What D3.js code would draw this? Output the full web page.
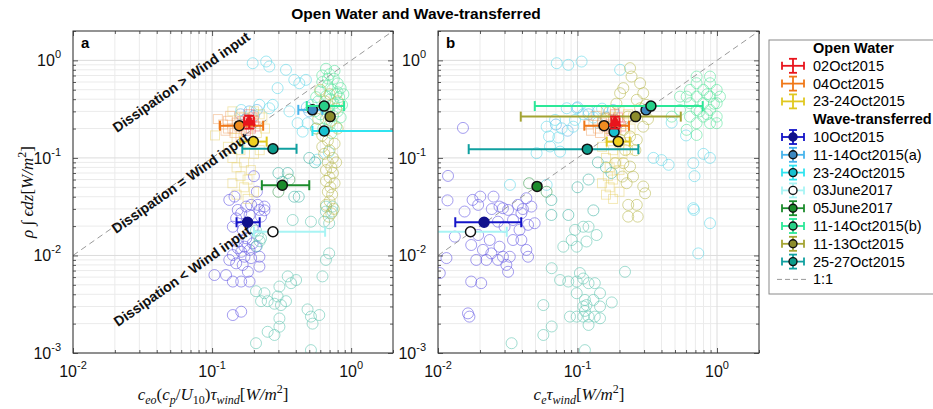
<!DOCTYPE html>
<html><head><meta charset="utf-8">
<script src="https://cdn.jsdelivr.net/npm/d3@7"></script>
<style>body{margin:0;background:#fff}svg{display:block}</style>
</head><body><svg id="c" width="933" height="409"></svg>
<script>
// ---------------- DATA ----------------
const titleText = "Open Water and Wave-transferred";
const groupNames = ["Open Water", "Wave-transferred"];
const seriesNames = ["02Oct2015","04Oct2015","23-24Oct2015","10Oct2015","11-14Oct2015(a)","23-24Oct2015","03June2017","05June2017","11-14Oct2015(b)","11-13Oct2015","25-27Oct2015"];
const xTickValues = [0.01, 0.1, 1];
const xTickExp = ["-2","-1","0"];
const yTickValues = [0.001, 0.01, 0.1, 1];
const yTickExp = ["-3","-2","-1","0"];
const annotations = ["Dissipation > Wind input","Dissipation = Wind input","Dissipation < Wind input"];

// means: [x, y, xlo, xhi, ylo, yhi]
const meansA = [
  [0.185,0.235,0.17,0.2,0.2,0.27],
  [0.157,0.214,0.114,0.233,0.214,0.214],
  [0.198,0.147,0.159,0.247,0.147,0.147],
  [0.18,0.0219,0.15,0.22,0.0219,0.0219],
  [0.527,0.311,0.417,0.62,0.311,0.311],
  [0.64,0.189,0.527,3,0.189,0.189],
  [0.274,0.0175,0.2,0.65,0.0175,0.0175],
  [0.32,0.0525,0.228,0.5,0.0525,0.0525],
  [0.64,0.34,0.48,0.89,0.34,0.34],
  [0.706,0.265,0.7,0.71,0.265,0.265],
  [0.274,0.124,0.165,0.405,0.124,0.124]
];
const meansB = [
  [0.186,0.23,0.175,0.2,0.2,0.265],
  [0.155,0.214,0.112,0.234,0.214,0.214],
  [0.196,0.147,0.162,0.237,0.147,0.147],
  [0.0214,0.0219,0.0133,0.0395,0.0219,0.0219],
  [0.31,0.31,0.3,0.32,0.31,0.31],
  [0.183,0.185,0.183,0.183,0.185,0.185],
  [0.0171,0.0175,0.008,0.0311,0.0175,0.0175],
  [0.0513,0.051,0.0513,0.0513,0.051,0.051],
  [0.336,0.34,0.0494,0.79,0.34,0.34],
  [0.261,0.265,0.0392,0.55,0.265,0.265],
  [0.1175,0.123,0.0166,0.273,0.123,0.123]
];

// scatter, panel a
const a02Oct = [[0.17,0.22],[0.18,0.25],[0.19,0.2],[0.2,0.24],[0.185,0.28],[0.175,0.19],[0.195,0.26],[0.205,0.21],[0.165,0.24],[0.19,0.23]];
const a04Oct = [[0.12,0.22],[0.13,0.24],[0.14,0.2],[0.15,0.23],[0.125,0.19],[0.16,0.26],[0.135,0.27],[0.145,0.18],[0.17,0.2],[0.155,0.21],[0.13,0.2],[0.16,0.17],[0.11,0.25]];
const a2324OW = [[0.14,0.3],[0.2,0.3],[0.22,0.28],[0.17,0.26],[0.21,0.18],[0.15,0.16],[0.18,0.14],[0.16,0.12],[0.2,0.11],[0.14,0.1],[0.17,0.09],[0.15,0.08],[0.19,0.075],[0.16,0.065],[0.18,0.06],[0.14,0.055],[0.17,0.05],[0.2,0.045],[0.15,0.042],[0.18,0.038],[0.22,0.12],[0.24,0.2],[0.13,0.13],[0.23,0.26],[0.105,0.17]];
const a10Oct = [[0.133,0.0371],[0.145,0.0401],[0.153,0.0293],[0.176,0.0317],[0.191,0.033],[0.213,0.033],[0.238,0.0317],[0.219,0.0293],[0.186,0.026],[0.162,0.0271],[0.149,0.024],[0.141,0.0197],[0.166,0.0183],[0.196,0.019],[0.176,0.015],[0.153,0.0139],[0.171,0.0123],[0.186,0.0114],[0.207,0.0123],[0.219,0.0097],[0.191,0.0094],[0.171,0.0097],[0.162,0.0109],[0.141,0.0101],[0.133,0.009],[0.149,0.0083],[0.166,0.008],[0.181,0.0068],[0.104,0.0063],[0.126,0.0063],[0.141,0.0054],[0.162,0.0054],[0.186,0.0054],[0.141,0.00245],[0.162,0.00265],[0.219,0.0077],[0.238,0.029],[0.225,0.025],[0.153,0.0119],[0.196,0.0133],[0.2,0.065],[0.21,0.045]];
const a1114a = [[0.16,0.28],[0.185,0.3],[0.2,0.27],[0.175,0.25],[0.21,0.31],[0.5,0.3],[0.48,0.33]];
const a2324WT = [[0.196,0.935],[0.245,0.973],[0.258,0.865],[0.34,0.8],[0.39,0.631],[0.296,0.519],[0.424,0.583],[0.473,0.631],[0.219,0.35],[0.258,0.323],[0.273,0.35],[0.162,0.31],[0.412,0.227],[0.486,0.227],[0.448,0.186],[0.36,0.3],[0.52,0.35],[0.56,0.2],[0.57,0.096],[0.69,0.115]];
const a03June = [[0.207,0.0043],[0.238,0.0041],[0.251,0.0034],[0.281,0.0032],[0.313,0.0031],[0.34,0.0034],[0.305,0.0048],[0.296,0.0038],[0.35,0.0061],[0.37,0.0052],[0.402,0.0056],[0.486,0.0028],[0.514,0.00236],[0.59,0.00245],[0.528,0.002],[0.305,0.00226],[0.305,0.00186],[0.281,0.00153],[0.207,0.00126],[0.514,0.00107],[0.251,0.00165],[0.225,0.0034],[0.622,0.0061],[0.659,0.0317],[0.734,0.0317],[0.659,0.0282],[0.734,0.0282],[0.64,0.0222],[0.695,0.0214],[0.659,0.009],[0.695,0.0105],[0.514,0.0222],[0.38,0.0231],[0.207,0.018],[0.213,0.016],[0.22,0.014],[0.21,0.0125],[0.225,0.015]];
const a05June = [[0.36,0.06],[0.3,0.045]];
const a1114b = [[0.66,0.82],[0.7,0.72],[0.75,0.65],[0.62,0.6],[0.8,0.58],[0.68,0.55],[0.73,0.5],[0.84,0.52],[0.6,0.48],[0.78,0.45],[0.66,0.43],[0.71,0.4],[0.82,0.42],[0.58,0.38],[0.75,0.36],[0.64,0.33],[0.86,0.35],[0.69,0.3],[0.8,0.3],[0.6,0.28],[0.74,0.27],[0.66,0.25],[0.84,0.26],[0.7,0.22],[0.78,0.21],[0.63,0.2],[0.72,0.18],[0.8,0.47],[0.56,0.42],[0.68,0.65],[0.76,0.78],[0.88,0.45],[0.62,0.7],[0.7,0.34],[0.55,0.3]];
const a1113 = [[0.6,0.5],[0.7,0.45],[0.65,0.38],[0.78,0.32],[0.58,0.25],[0.72,0.24],[0.8,0.2],[0.62,0.17],[0.68,0.15],[0.76,0.14],[0.7,0.12],[0.64,0.11],[0.74,0.1],[0.68,0.09],[0.72,0.08],[0.66,0.075],[0.74,0.07],[0.7,0.063],[0.66,0.058],[0.76,0.055],[0.71,0.05],[0.68,0.045],[0.73,0.042],[0.7,0.036],[0.66,0.033],[0.75,0.03],[0.72,0.027],[0.69,0.025],[0.8,0.38],[0.56,0.2],[0.62,0.13],[0.78,0.09]];
const a2527 = [[0.3,0.07],[0.35,0.07],[0.32,0.057],[0.42,0.04],[0.39,0.04],[0.5,0.1],[0.55,0.09]];

// scatter, panel b
const b02Oct = [[0.17,0.22],[0.18,0.25],[0.19,0.2],[0.2,0.24],[0.185,0.28],[0.175,0.19],[0.195,0.26],[0.205,0.21]];
const b04Oct = [[0.12,0.22],[0.13,0.24],[0.14,0.2],[0.15,0.23],[0.125,0.19],[0.16,0.26],[0.135,0.27],[0.145,0.18],[0.17,0.2],[0.155,0.21]];
const b2324OW = [[0.16,0.3],[0.2,0.3],[0.23,0.28],[0.18,0.26],[0.22,0.18],[0.17,0.16],[0.2,0.14],[0.18,0.12],[0.21,0.11],[0.16,0.1],[0.19,0.09],[0.17,0.08],[0.2,0.075],[0.165,0.065],[0.18,0.06],[0.15,0.055],[0.17,0.05],[0.2,0.045],[0.16,0.042],[0.18,0.038],[0.23,0.12],[0.24,0.2],[0.15,0.13],[0.25,0.26]];
const b10Oct = [[0.0118,0.0654],[0.0117,0.0367],[0.0155,0.0282],[0.0177,0.0371],[0.0201,0.0401],[0.025,0.0401],[0.0194,0.033],[0.0243,0.0299],[0.0276,0.0317],[0.0292,0.0305],[0.0318,0.0293],[0.0374,0.033],[0.043,0.0386],[0.0406,0.0299],[0.0467,0.0317],[0.0396,0.0271],[0.0345,0.0231],[0.03,0.0197],[0.0269,0.0222],[0.0442,0.0206],[0.0493,0.0214],[0.0384,0.0183],[0.0132,0.0156],[0.0173,0.0128],[0.0235,0.0144],[0.0276,0.0123],[0.021,0.0114],[0.0241,0.0105],[0.0222,0.009],[0.0188,0.009],[0.0292,0.0097],[0.0327,0.0097],[0.0269,0.009],[0.0309,0.008],[0.0318,0.0068],[0.043,0.0114],[0.0442,0.0097],[0.0173,0.0054],[0.0204,0.0052],[0.0164,0.00255],[0.0168,0.00236],[0.0115,0.0094],[0.0103,0.0066],[0.0396,0.0144],[0.0345,0.0144],[0.0194,0.0162],[0.0151,0.203]];
const b1114a = [[0.1,0.33],[0.12,0.28],[0.14,0.3],[0.16,0.26],[0.18,0.31],[0.085,0.19],[0.07,0.22]];
const b2324WT = [[0.071,0.935],[0.0859,0.9],[0.107,0.972],[0.202,0.8],[0.0601,0.209],[0.0771,0.201],[0.0837,0.323],[0.0987,0.323],[0.0933,0.209],[0.096,0.245],[0.069,0.245],[0.0625,0.166],[0.0729,0.162],[0.0635,0.131],[0.075,0.116],[0.0509,0.112],[0.0601,0.0529],[0.0328,0.0529],[0.11,0.28],[0.12,0.3],[0.13,0.26],[0.14,0.23],[0.15,0.32],[0.35,0.1],[0.4,0.095],[0.45,0.085],[0.676,0.0883],[0.69,0.065],[0.8,0.11],[0.89,0.1],[0.6,0.17],[0.473,0.23],[0.734,0.0105],[0.891,0.0214],[0.676,0.0305],[0.684,0.0293]];
const b03June = [[0.0791,0.0123],[0.0908,0.0144],[0.096,0.0183],[0.11,0.0197],[0.12,0.0197],[0.0987,0.0123],[0.116,0.0139],[0.137,0.0162],[0.0859,0.0054],[0.0987,0.0054],[0.104,0.0066],[0.11,0.0058],[0.12,0.0052],[0.133,0.0052],[0.145,0.0041],[0.0987,0.0041],[0.113,0.0035],[0.116,0.0031],[0.13,0.0035],[0.11,0.003],[0.0883,0.00236],[0.0987,0.00236],[0.11,0.00236],[0.12,0.00236],[0.133,0.00236],[0.145,0.00227],[0.12,0.00194],[0.145,0.003],[0.176,0.0033],[0.0569,0.0031],[0.075,0.0056],[0.0653,0.00187],[0.0569,0.00153],[0.0337,0.00126],[0.0653,0.0074],[0.113,0.0027],[0.219,0.0068],[0.113,0.00107]];
const b05June = [[0.045,0.055],[0.06,0.045]];
const b1114b = [[0.606,0.425],[0.64,0.498],[0.714,0.583],[0.798,0.498],[0.891,0.583],[0.995,0.498],[0.64,0.364],[0.714,0.425],[0.798,0.364],[0.891,0.425],[0.995,0.364],[1.05,0.425],[0.714,0.31],[0.798,0.265],[0.891,0.31],[0.995,0.265],[0.64,0.265],[0.891,0.227],[0.995,0.227],[0.714,0.227],[0.606,0.194],[0.714,0.172],[0.543,0.31],[0.473,0.265],[0.714,0.682],[0.891,0.682],[0.543,0.425],[0.95,0.36],[0.85,0.45],[0.75,0.3],[0.85,0.28]];
const b1113 = [[0.238,0.832],[0.244,0.682],[0.281,0.583],[0.213,0.519],[0.296,0.461],[0.202,0.461],[0.266,0.394],[0.281,0.323],[0.23,0.265],[0.296,0.209],[0.213,0.194],[0.238,0.166],[0.202,0.153],[0.266,0.153],[0.213,0.0883],[0.238,0.0815],[0.21,0.0644],[0.25,0.0644],[0.225,0.055],[0.296,0.0509],[0.186,0.0883],[0.17,0.3],[0.19,0.36],[0.31,0.35],[0.32,0.25],[0.16,0.25],[0.26,0.12],[0.22,0.12],[0.231,0.033],[0.266,0.033],[0.27,0.025],[0.231,0.025],[0.305,0.0434]];
const b2527 = [[0.065,0.026],[0.086,0.026],[0.065,0.037],[0.13,0.029],[0.1,0.05],[0.12,0.06],[0.14,0.09],[0.16,0.08],[0.175,0.07]];

const scatterA = [a02Oct,a04Oct,a2324OW,a10Oct,a1114a,a2324WT,a03June,a05June,a1114b,a1113,a2527];
const scatterB = [b02Oct,b04Oct,b2324OW,b10Oct,b1114a,b2324WT,b03June,b05June,b1114b,b1113,b2527];

// ---------------- STYLE ----------------
const barColor   = ["#e8141c","#f07818","#e0c820","#1414c8","#48b4ec","#30e4f0","#a8f4f4","#1c8c2c","#2ce898","#a4a434","#10a0a0"];
const fillColor  = ["#e8141c","#f08c20","#f0d020","#10108c","#3c88c0","#18c0d0","#ffffff","#1c8c2c","#28d088","#8c8c2c","#0c9c8c"];
const scatColor  = ["#f05050","#f0a060","#e8d060","#6458e4","#58b0e8","#60d8e8","#60c4b0","#3c9c50","#58e49c","#b8b850","#40b4a4"];

const svg = d3.select("#c");
const sans = "'Liberation Sans', Arial, Helvetica, sans-serif";
const serif = "'Liberation Serif', 'Times New Roman', serif";
const T = 31, B = 353;

svg.append("text").attr("x", 416).attr("y", 19).attr("text-anchor","middle")
  .attr("font-family", sans).attr("font-weight","bold").attr("font-size",15.5).text(titleText);

function drawPanel(idx, left, right, label, scat, means) {
  const x = d3.scaleLog().domain([0.01, 2]).range([left, right]);
  const y = d3.scaleLog().domain([0.001, 2]).range([B, T]);
  const g = svg.append("g");
  const clipId = "clip" + idx;
  g.append("clipPath").attr("id", clipId).append("rect")
    .attr("x", left).attr("y", T).attr("width", right-left).attr("height", B-T);

  const xMinor = [], yMinor = [];
  [0.01,0.1,1].forEach(d => { for (let k=2;k<=9;k++){ const v=d*k; if (v<=2) xMinor.push(v);} });
  [0.001,0.01,0.1,1].forEach(d => { for (let k=2;k<=9;k++){ const v=d*k; if (v<=2) yMinor.push(v);} });

  const grid = g.append("g");
  grid.selectAll(".xm").data(xMinor).join("line").attr("x1",d=>x(d)).attr("x2",d=>x(d)).attr("y1",T).attr("y2",B)
    .attr("stroke","#ebebeb").attr("stroke-width",1);
  grid.selectAll(".ym").data(yMinor).join("line").attr("y1",d=>y(d)).attr("y2",d=>y(d)).attr("x1",left).attr("x2",right)
    .attr("stroke","#ebebeb").attr("stroke-width",1);
  grid.selectAll(".xM").data(xTickValues).join("line").attr("x1",d=>x(d)).attr("x2",d=>x(d)).attr("y1",T).attr("y2",B)
    .attr("stroke","#dcdcdc").attr("stroke-width",1);
  grid.selectAll(".yM").data(yTickValues).join("line").attr("y1",d=>y(d)).attr("y2",d=>y(d)).attr("x1",left).attr("x2",right)
    .attr("stroke","#dcdcdc").attr("stroke-width",1);

  const plot = g.append("g").attr("clip-path", `url(#${clipId})`);

  for (let s = 3; s < seriesNames.length; s++) {
    plot.append("g").selectAll("circle").data(scat[s]).join("circle")
      .attr("cx", d=>x(d[0])).attr("cy", d=>y(d[1])).attr("r", 5.5)
      .attr("fill","none").attr("stroke", scatColor[s]).attr("stroke-width",0.9).attr("stroke-opacity",0.65);
  }
  for (let s = 0; s < 3; s++) {
    plot.append("g").selectAll("rect").data(scat[s]).join("rect")
      .attr("x", d=>x(d[0])-4.5).attr("y", d=>y(d[1])-4.5).attr("width",9).attr("height",9)
      .attr("fill","none").attr("stroke", scatColor[s]).attr("stroke-width",0.9).attr("stroke-opacity",0.5);
  }

  plot.append("line").attr("x1", x(0.01)).attr("y1", y(0.01)).attr("x2", x(2)).attr("y2", y(2))
    .attr("stroke","#9a9a9a").attr("stroke-width",1).attr("stroke-dasharray","6,4");

  const order = [6,3,7,10,4,5,8,9,1,2,0];
  order.forEach(s => {
    const m = means[s];
    const eg = plot.append("g");
    const c = barColor[s];
    if (m[3] > m[2]) {
      eg.append("line").attr("x1",x(m[2])).attr("x2",x(m[3])).attr("y1",y(m[1])).attr("y2",y(m[1]))
        .attr("stroke",c).attr("stroke-width",2);
      [m[2],m[3]].forEach(v => eg.append("line").attr("x1",x(v)).attr("x2",x(v)).attr("y1",y(m[1])-5).attr("y2",y(m[1])+5)
        .attr("stroke",c).attr("stroke-width",2));
    }
    if (m[5] > m[4]) {
      eg.append("line").attr("x1",x(m[0])).attr("x2",x(m[0])).attr("y1",y(m[4])).attr("y2",y(m[5]))
        .attr("stroke",c).attr("stroke-width",2);
      [m[4],m[5]].forEach(v => eg.append("line").attr("y1",y(v)).attr("y2",y(v)).attr("x1",x(m[0])-5).attr("x2",x(m[0])+5)
        .attr("stroke",c).attr("stroke-width",2));
    }
    if (s === 0) {
      eg.append("path").attr("d", d3.symbol(d3.symbolTriangle, 60)()).attr("transform",`translate(${x(m[0])},${y(m[1])})`)
        .attr("fill", fillColor[s]).attr("stroke", fillColor[s]);
    } else {
      eg.append("circle").attr("cx",x(m[0])).attr("cy",y(m[1])).attr("r",5)
        .attr("fill", fillColor[s]).attr("stroke", s===3 ? "#10108c" : "#111").attr("stroke-width",1.5);
    }
  });

  if (idx === 0) {
    const pos = [[182, 83], [181, 184], [183, 277]];
    annotations.forEach((t, i) => {
      svg.append("text").attr("transform", `translate(${pos[i][0]},${pos[i][1]}) rotate(-35)`)
        .attr("text-anchor","middle").attr("dominant-baseline","middle")
        .attr("font-family", sans).attr("font-weight","bold").attr("font-size",14).attr("fill","#111").text(t);
    });
  }

  const ax = svg.append("g");
  const noLab = () => "";
  const strip = a => a.select(".domain").remove();
  ax.append("g").attr("transform",`translate(0,${B})`).call(d3.axisBottom(x).tickValues(xTickValues).tickSize(-5).tickFormat(noLab)).call(strip);
  ax.append("g").attr("transform",`translate(0,${B})`).call(d3.axisBottom(x).tickValues(xMinor).tickSize(-3).tickFormat(noLab)).call(strip);
  ax.append("g").attr("transform",`translate(0,${T})`).call(d3.axisTop(x).tickValues(xTickValues).tickSize(-5).tickFormat(noLab)).call(strip);
  ax.append("g").attr("transform",`translate(0,${T})`).call(d3.axisTop(x).tickValues(xMinor).tickSize(-3).tickFormat(noLab)).call(strip);
  ax.append("g").attr("transform",`translate(${left},0)`).call(d3.axisLeft(y).tickValues(yTickValues).tickSize(-5).tickFormat(noLab)).call(strip);
  ax.append("g").attr("transform",`translate(${left},0)`).call(d3.axisLeft(y).tickValues(yMinor).tickSize(-3).tickFormat(noLab)).call(strip);
  ax.append("g").attr("transform",`translate(${right},0)`).call(d3.axisRight(y).tickValues(yTickValues).tickSize(-5).tickFormat(noLab)).call(strip);
  ax.append("g").attr("transform",`translate(${right},0)`).call(d3.axisRight(y).tickValues(yMinor).tickSize(-3).tickFormat(noLab)).call(strip);
  ax.selectAll("line").attr("stroke","#333").attr("stroke-width",0.8);
  ax.append("rect").attr("x",left).attr("y",T).attr("width",right-left).attr("height",B-T)
    .attr("fill","none").attr("stroke","#333").attr("stroke-width",1);

  xTickValues.forEach((v,i) => {
    const t = svg.append("text").attr("x", x(v)).attr("y", 377).attr("text-anchor","middle")
      .attr("font-family", sans).attr("font-size",16).attr("fill","#111");
    t.append("tspan").text("10");
    t.append("tspan").attr("dy",-8).attr("font-size",11).text(xTickExp[i]);
  });
  yTickValues.forEach((v,i) => {
    const t = svg.append("text").attr("x", left-12).attr("y", y(v)+6).attr("text-anchor","end")
      .attr("font-family", sans).attr("font-size",16).attr("fill","#111");
    t.append("tspan").text("10");
    t.append("tspan").attr("dy",-8).attr("font-size",11).text(yTickExp[i]);
  });

  svg.append("text").attr("x", left+8).attr("y", T+17).attr("font-family", sans).attr("font-weight","bold")
    .attr("font-size",15).text(label);
}

drawPanel(0, 73, 393, "a", scatterA, meansA);
drawPanel(1, 438, 759, "b", scatterB, meansB);

function mathText(xp, yp, parts, rot) {
  const t = svg.append("text").attr("font-family", serif).attr("font-size",17).attr("fill","#111")
    .attr("text-anchor","middle")
    .attr("transform", `translate(${xp},${yp})` + (rot ? ` rotate(${rot})` : ""));
  let shift = 0;
  parts.forEach(p => {
    const ts = t.append("tspan").text(p[0]);
    const want = p[1] === "sub" ? 4 : (p[1] === "sup" ? -7 : 0);
    ts.attr("dy", want - shift); shift = want;
    if (p[1]) ts.attr("font-size", 12);
    if (p[2]) ts.attr("font-style","italic");
  });
}
mathText(213, 400, [["c",0,1],["eo","sub",1],["(",0,0],["c",0,1],["p","sub",1],["/",0,0],["U",0,1],["10","sub",0],[")",0,0],["τ",0,1],["wind","sub",1],["[",0,0],["W/m",0,1],["2","sup",0],["]",0,0]]);
mathText(579, 400, [["c",0,1],["e","sub",1],["τ",0,1],["wind","sub",1],["[",0,0],["W/m",0,1],["2","sup",0],["]",0,0]]);
mathText(33, 192, [["ρ ∫ ϵdz",0,1],["[",0,0],["W/m",0,1],["2","sup",0],["]",0,0]], -90);

// ---------------- LEGEND ----------------
const lg = svg.append("g");
lg.append("rect").attr("x",769).attr("y",40).attr("width",175).attr("height",254)
  .attr("fill","#fff").attr("stroke","#8a8a8a").attr("stroke-width",1);
const rowH = 17.8, y0 = 48;
const rows = [];
rows.push({type:"head", text: groupNames[0]});
for (let s=0;s<3;s++) rows.push({type:"s", s});
rows.push({type:"head", text: groupNames[1]});
for (let s=3;s<seriesNames.length;s++) rows.push({type:"s", s});
rows.push({type:"line"});
rows.forEach((r,i) => {
  const cy = y0 + i*rowH;
  if (r.type === "head") {
    lg.append("text").attr("x",813).attr("y",cy+5).attr("font-family",sans).attr("font-weight","bold").attr("font-size",14.5).text(r.text);
  } else if (r.type === "s") {
    const s = r.s, c = barColor[s];
    const ic = lg.append("g");
    const cx = 793;
    ic.append("line").attr("x1",cx-11).attr("x2",cx+11).attr("y1",cy).attr("y2",cy).attr("stroke",c).attr("stroke-width",1.8);
    ic.append("line").attr("x1",cx).attr("x2",cx).attr("y1",cy-7).attr("y2",cy+7).attr("stroke",c).attr("stroke-width",1.8);
    [-11,11].forEach(o=>ic.append("line").attr("x1",cx+o).attr("x2",cx+o).attr("y1",cy-4).attr("y2",cy+4).attr("stroke",c).attr("stroke-width",1.8));
    [-7,7].forEach(o=>ic.append("line").attr("x1",cx-4).attr("x2",cx+4).attr("y1",cy+o).attr("y2",cy+o).attr("stroke",c).attr("stroke-width",1.8));
    if (s >= 3) ic.append("circle").attr("cx",cx).attr("cy",cy).attr("r",4).attr("fill",fillColor[s])
      .attr("stroke", s===3 ? "#10108c" : "#111").attr("stroke-width",1.4);
    lg.append("text").attr("x",813).attr("y",cy+5).attr("font-family",sans).attr("font-size",14.5).text(seriesNames[s]);
  } else {
    lg.append("line").attr("x1",777).attr("x2",808).attr("y1",cy).attr("y2",cy).attr("stroke","#9a9a9a").attr("stroke-dasharray","5,3");
    lg.append("text").attr("x",813).attr("y",cy+5).attr("font-family",sans).attr("font-size",14.5).text("1:1");
  }
});
</script>
</body></html>
